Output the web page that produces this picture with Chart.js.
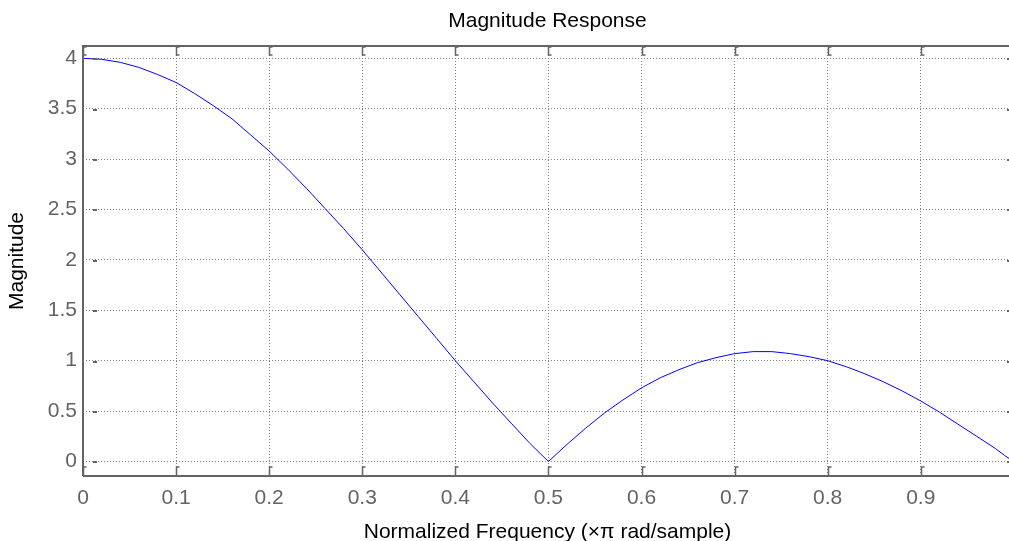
<!DOCTYPE html>
<html>
<head>
<meta charset="utf-8">
<script src="https://cdn.jsdelivr.net/npm/chart.js@4/dist/chart.umd.min.js"></script>
<style>
	html, body { margin: 0; padding: 0; background: #fff; overflow: hidden; }
	canvas { display: block; }
</style>
</head>
<body>
<canvas id="chart" width="1012" height="541"></canvas>
<script>
"use strict";

// normalized frequency (x pi rad/sample)
const freq = [
	0, 0.02, 0.04, 0.06, 0.08, 0.10, 0.12, 0.14, 0.16, 0.18,
	0.20, 0.22, 0.24, 0.26, 0.28, 0.30, 0.32, 0.34, 0.36, 0.38,
	0.40, 0.42, 0.44, 0.46, 0.48, 0.50, 0.52, 0.54, 0.56, 0.58,
	0.60, 0.62, 0.64, 0.66, 0.68, 0.70, 0.72, 0.74, 0.76, 0.78,
	0.80, 0.82, 0.84, 0.86, 0.88, 0.90, 0.92, 0.94, 0.96, 0.98,
	0.99, 0.998
];
const magnitude = [
	4.00, 3.99, 3.96, 3.91, 3.84, 3.76, 3.65, 3.53, 3.40, 3.24,
	3.08, 2.90, 2.71, 2.51, 2.31, 2.10, 1.88, 1.66, 1.44, 1.22,
	1.00, 0.79, 0.58, 0.38, 0.18, 0.00, 0.17, 0.33, 0.48, 0.61,
	0.73, 0.83, 0.91, 0.98, 1.03, 1.07, 1.09, 1.09, 1.07, 1.04,
	1.00, 0.94, 0.87, 0.79, 0.70, 0.60, 0.49, 0.37, 0.25, 0.13,
	0.06, 0.01
];

const xTicks = [0, 0.1, 0.2, 0.3, 0.4, 0.5, 0.6, 0.7, 0.8, 0.9];
const yTicks = [0, 0.5, 1, 1.5, 2, 2.5, 3, 3.5, 4];

const fontFam = '"Liberation Sans", Arial, sans-serif';
const fontSize = 21;
const axisGrey = '#646464';
const titleText = 'Magnitude Response';

// matlab style box with inward ticks, title centred over the axes
const boxPlugin = {
	id: 'box',
	afterDatasetsDraw(chart) {
		const { ctx, chartArea: a, scales } = chart;
		ctx.save();
		ctx.strokeStyle = axisGrey;
		ctx.lineWidth = 2;
		ctx.beginPath();
		ctx.moveTo(a.left, a.bottom);
		ctx.lineTo(a.left, a.top);
		ctx.lineTo(a.right, a.top);
		ctx.lineTo(a.right, a.bottom);
		ctx.lineTo(a.left, a.bottom);
		ctx.stroke();

		ctx.lineWidth = 1.5;
		xTicks.forEach((v) => {
			let x = Math.round(scales.x.getPixelForValue(v)) + 0.5;
			ctx.beginPath();
			ctx.moveTo(x, a.bottom);
			ctx.lineTo(x, a.bottom - 9);
			ctx.lineTo(x + 3, a.bottom - 9);
			ctx.moveTo(x + 3, a.top + 1);
			ctx.lineTo(x, a.top + 1);
			ctx.lineTo(x, a.top + 9);
			ctx.lineTo(x + 3, a.top + 9);
			ctx.stroke();
		});
		ctx.lineWidth = 2;
		yTicks.forEach((v) => {
			let y = Math.round(scales.y.getPixelForValue(v)) + 1;
			ctx.beginPath();
			ctx.moveTo(a.left + 10, y);
			ctx.lineTo(a.left + 14, y);
			ctx.moveTo(a.right - 5, y);
			ctx.lineTo(a.right - 1, y);
			ctx.stroke();
		});

		ctx.fillStyle = '#000';
		ctx.font = fontSize + 'px ' + fontFam;
		ctx.textAlign = 'center';
		ctx.textBaseline = 'middle';
		ctx.fillText(titleText, (a.left + a.right) / 2, 21);
		ctx.restore();
	}
};

function eventHandler() {
	const points = freq.map((f, i) => ({ x: f, y: magnitude[i] }));

	new Chart(document.getElementById('chart'), {
		type: 'line',
		data: {
			datasets: [{
				data: points,
				borderColor: '#0000ff',
				borderWidth: 1,
				pointRadius: 0,
				tension: 0,
				fill: false
			}]
		},
		options: {
			responsive: false,
			animation: false,
			layout: { padding: { left: 0, right: 0, top: 46, bottom: 0 } },
			plugins: {
				legend: { display: false },
				tooltip: { enabled: false },
				title: { display: false }
			},
			scales: {
				x: {
					type: 'linear',
					min: 0,
					max: 0.998,
					afterBuildTicks: (s) => { s.ticks = xTicks.map((v) => ({ value: v })); },
					afterFit: (s) => { s.height = 65; },
					ticks: {
						includeBounds: false,
						autoSkip: false,
						maxRotation: 0,
						padding: 10,
						color: axisGrey,
						font: { family: fontFam, size: fontSize },
						callback: (v) => String(v)
					},
					grid: { color: '#808080', lineWidth: 1, drawTicks: false },
					border: { display: false, dash: [1, 2] },
					title: {
						display: true,
						text: 'Normalized Frequency (\u00d7\u03c0 rad/sample)',
						color: '#000',
						font: { family: fontFam, size: fontSize, lineHeight: 1 },
						padding: { top: 0, bottom: -2 }
					}
				},
				y: {
					type: 'linear',
					min: -0.144,
					max: 4.122,
					afterBuildTicks: (s) => { s.ticks = yTicks.map((v) => ({ value: v })); },
					afterFit: (s) => { s.width = 83; },
					ticks: {
						includeBounds: false,
						autoSkip: false,
						padding: 6,
						color: axisGrey,
						font: { family: fontFam, size: fontSize },
						callback: (v) => String(v)
					},
					grid: { color: '#808080', lineWidth: 1, drawTicks: false },
					border: { display: false, dash: [1, 2] },
					title: {
						display: true,
						text: 'Magnitude',
						color: '#000',
						font: { family: fontFam, size: fontSize },
						padding: { top: 5, bottom: 0 }
					}
				}
			}
		},
		plugins: [boxPlugin]
	});
}

if (document.readyState !== 'loading') {
	eventHandler();
} else {
	document.addEventListener('DOMContentLoaded', eventHandler);
}
</script>
</body>
</html>
